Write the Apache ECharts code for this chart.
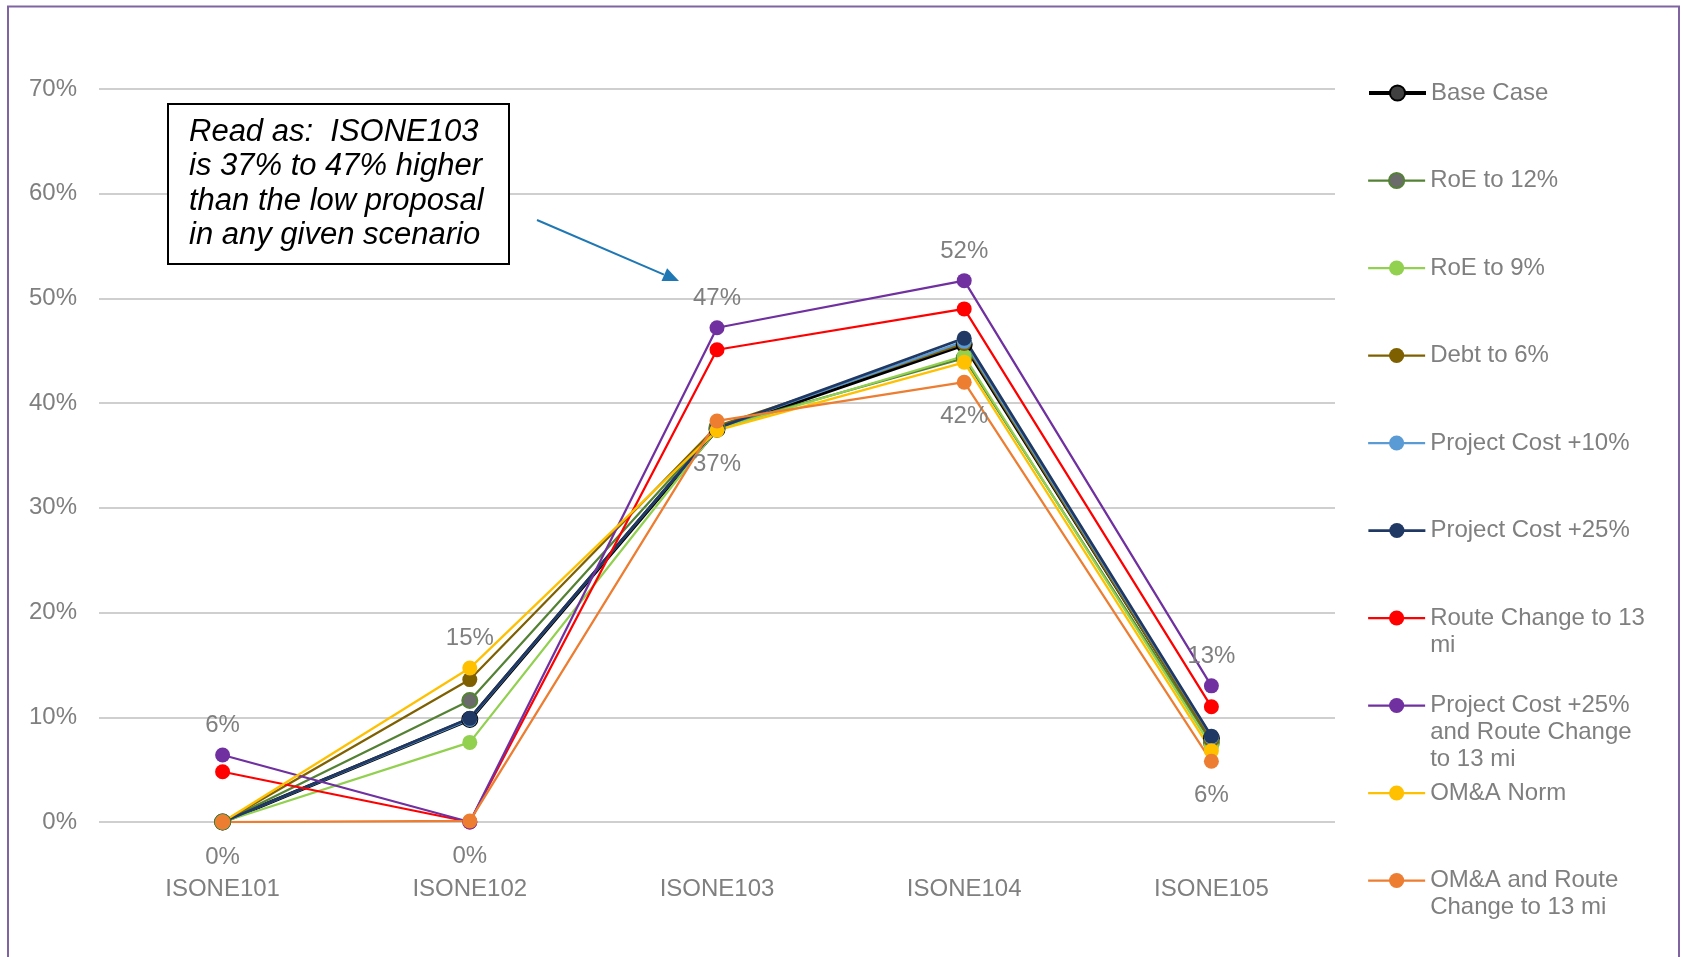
<!DOCTYPE html>
<html>
<head>
<meta charset="utf-8">
<script src="https://cdn.jsdelivr.net/npm/echarts@6/dist/echarts.min.js"></script>
<style>
  html, body { margin: 0; padding: 0; background: #fff; }
  #chart { width: 1684px; height: 957px; }
</style>
</head>
<body>
<div id="chart"></div>
<script>
// categories and series (percent higher than the low proposal)
const categories = ['ISONE101', 'ISONE102', 'ISONE103', 'ISONE104', 'ISONE105'];
const seriesNames = ['Base Case', 'RoE to 12%', 'RoE to 9%', 'Debt to 6%', 'Project Cost +10%',
  'Project Cost +25%', 'Route Change to 13 mi', 'Project Cost +25% and Route Change to 13 mi',
  'OM&A Norm', 'OM&A and Route Change to 13 mi'];
const legendLabels = ['Base Case', 'RoE to 12%', 'RoE to 9%', 'Debt to 6%', 'Project Cost +10%',
  'Project Cost +25%', 'Route Change to 13\nmi', 'Project Cost +25%\nand Route Change\nto 13 mi',
  'OM&A Norm', 'OM&A and Route\nChange to 13 mi'];

const baseCase      = [0, 9.8, 37.5, 45.6, 8.0];
const roe12         = [0, 11.6, 37.7, 44.3, 7.6];
const roe9          = [0, 7.6, 37.5, 44.5, 7.2];
const debt6         = [0, 13.6, 37.8, 45.7, 7.8];
const projCost10    = [0, 9.8, 37.6, 45.9, 8.1];
const projCost25    = [0, 9.9, 37.6, 46.2, 8.2];
const route13       = [4.8, 0, 45.1, 49.0, 11.0];
const projRoute     = [6.4, 0, 47.2, 51.7, 13.0];
const omaNorm       = [0, 14.7, 37.4, 43.9, 6.8];
const omaRoute      = [0, 0.1, 38.3, 42.0, 5.8];

const yTicks = [0, 10, 20, 30, 40, 50, 60, 70];

const allValues = [baseCase, roe12, roe9, debt6, projCost10, projCost25, route13, projRoute, omaNorm, omaRoute];

const lineColors = ['#000000', '#548235', '#92d050', '#7f6000', '#5b9bd5', '#203864', '#ff0000', '#7030a0', '#ffc000', '#ed7d31'];
const dotColors  = ['#404040', '#6b6b6b', '#92d050', '#7f6000', '#5b9bd5', '#203864', '#ff0000', '#7030a0', '#ffc000', '#ed7d31'];
const lineWidths = [4, 2.25, 2.25, 2.25, 2.25, 2.75, 2.25, 2.25, 2.25, 2.25];

const labelGray = '#7f7f7f';
const FONT = 'Liberation Sans, Arial, sans-serif';

// which series carries the max / min label in each category
const maxIdx = categories.map((c, j) => {
  let best = 0;
  allValues.forEach((v, i) => { if (v[j] > allValues[best][j]) best = i; });
  return best;
});
const minIdx = categories.map((c, j) => {
  let best = 0;
  allValues.forEach((v, i) => { if (v[j] < allValues[best][j]) best = i; });
  return best;
});

const labelStyle = { show: true, color: labelGray, fontSize: 24, fontFamily: FONT,
  formatter: p => Math.round(p.value) + '%' };

const series = seriesNames.map((name, i) => ({
  name: name,
  type: 'line',
  symbol: 'circle',
  symbolSize: 15,
  lineStyle: { color: lineColors[i], width: lineWidths[i] },
  itemStyle: { color: dotColors[i], borderColor: lineColors[i], borderWidth: i === 0 || i === 1 ? 2 : 0 },
  emphasis: { disabled: true },
  data: allValues[i].map((v, j) => {
    if (maxIdx[j] === i) return { value: v, label: Object.assign({}, labelStyle, { position: 'top', distance: 10 }) };
    if (minIdx[j] === i) return { value: v, label: Object.assign({}, labelStyle, { position: 'bottom', distance: 15 }) };
    return v;
  })
}));

// legend: one block per entry, evenly spaced like the original;
// blank lines on top keep the symbol level with the first text line
const LEG_TOP = 93, LEG_STEP = 87.5, LEG_LINE = 27;
const legends = seriesNames.map((name, i) => {
  const n = legendLabels[i].split('\n').length;
  return {
    left: 1367,
    top: LEG_TOP + i * LEG_STEP - (2 * n - 1) * LEG_LINE / 2,
    padding: 0,
    itemWidth: 57,
    itemHeight: 19,
    itemGap: 0,
    selectedMode: false,
    formatter: () => ' \n'.repeat(n - 1) + legendLabels[i],
    lineStyle: { width: lineWidths[i] },
    textStyle: { color: labelGray, fontSize: 24, fontFamily: FONT, lineHeight: LEG_LINE },
    data: [{ name: name }]
  };
});

const chart = echarts.init(document.getElementById('chart'));
chart.setOption({
  backgroundColor: '#ffffff',
  animation: false,
  grid: { left: 99, right: 349, top: 89, bottom: 135, containLabel: false },
  legend: legends,
  xAxis: {
    type: 'category',
    data: categories,
    boundaryGap: true,
    axisLine: { show: false },
    axisTick: { show: false },
    axisLabel: { color: labelGray, fontSize: 24, fontFamily: FONT, margin: 55 }
  },
  yAxis: {
    type: 'value',
    min: yTicks[0],
    max: yTicks[yTicks.length - 1],
    interval: yTicks[1] - yTicks[0],
    axisLine: { show: false },
    axisTick: { show: false },
    axisLabel: { color: labelGray, fontSize: 24, fontFamily: FONT, margin: 22, formatter: '{value}%' },
    splitLine: { lineStyle: { color: '#bfbfbf', width: 1.5 } }
  },
  series: series,
  graphic: [
    { type: 'rect', silent: true, z: -1, shape: { x: 8, y: 6.5, width: 1671, height: 970 },
      style: { fill: null, stroke: '#8064a2', lineWidth: 2 } },
    { type: 'rect', silent: true, z: 10, shape: { x: 168, y: 104, width: 341, height: 160 },
      style: { fill: '#ffffff', stroke: '#000000', lineWidth: 2 } },
    { type: 'text', silent: true, z: 11, left: 189, top: 115,
      style: { text: 'Read as:  ISONE103\nis 37% to 47% higher\nthan the low proposal\nin any given scenario',
        fill: '#000000', font: 'italic 31px ' + FONT, lineHeight: 34.5 } },
    { type: 'line', silent: true, z: 10, shape: { x1: 537, y1: 220, x2: 664, y2: 274.7 },
      style: { stroke: '#1f78b4', lineWidth: 2 } },
    { type: 'polygon', silent: true, z: 10, shape: { points: [[679, 281], [661.5, 281.1], [667.1, 268.3]] },
      style: { fill: '#1f78b4' } }
  ]
});
</script>
</body>
</html>
